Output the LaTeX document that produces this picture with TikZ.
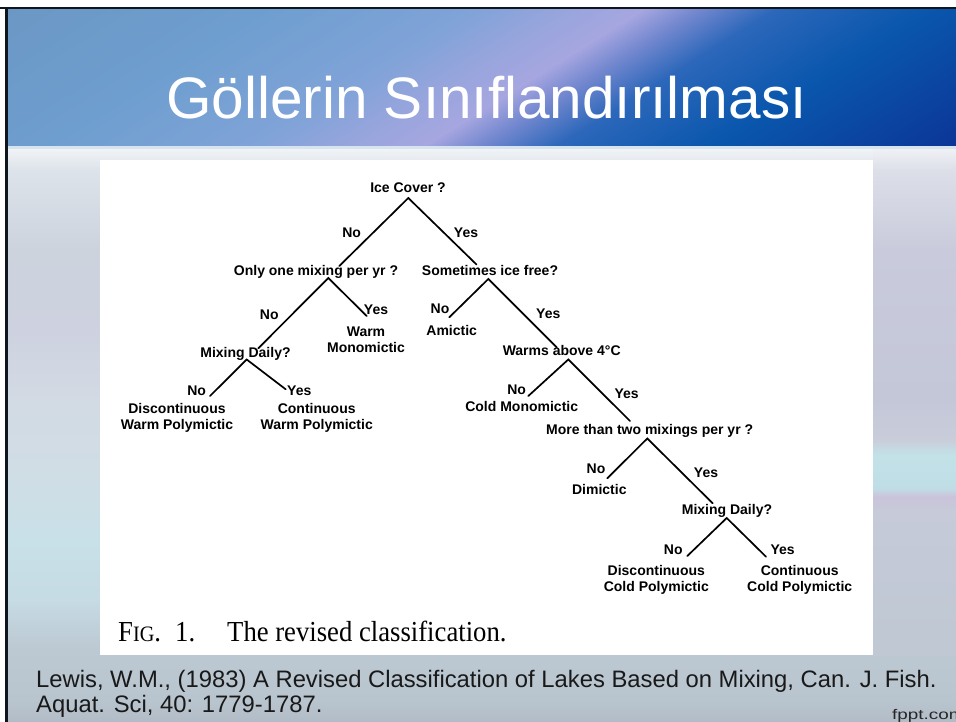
\documentclass[tikz,border=0pt]{standalone}
\usepackage{fontspec}
\setmainfont{Liberation Sans}
\newfontfamily\capfont{Liberation Serif}
% header colours
\definecolor{hA}{HTML}{6B97C4}
\definecolor{hB}{HTML}{6E9ECF}
\definecolor{hC}{HTML}{80A3D8}
\definecolor{hD}{HTML}{98A5DD}
\definecolor{hE}{HTML}{A6A6E0}
\definecolor{hF}{HTML}{7488CF}
\definecolor{hG}{HTML}{2C67BA}
\definecolor{hH}{HTML}{0A57AD}
\definecolor{hI}{HTML}{0B3597}
% body colours
\definecolor{b1}{HTML}{B2BCC6}
\definecolor{b2}{HTML}{B8C4CE}
\definecolor{b3}{HTML}{BCC8D2}
\definecolor{b4}{HTML}{C6DBE4}
\definecolor{b5}{HTML}{C8E0E8}
\definecolor{b6}{HTML}{D0DDE5}
\definecolor{b7}{HTML}{D2DAE4}
\definecolor{b8}{HTML}{CED2E0}
\definecolor{b9}{HTML}{CCD3DD}
\definecolor{b10}{HTML}{DDE3EA}
\definecolor{b11}{HTML}{EEF1F4}
\definecolor{b12}{HTML}{F4F6F8}
% right strip colours
\definecolor{s1}{HTML}{BFC8D3}
\definecolor{s2}{HTML}{C6CAD9}
\definecolor{s3}{HTML}{CBC3DA}
\definecolor{s4}{HTML}{C0DDE5}
\definecolor{s5}{HTML}{C2E2E8}
\definecolor{s6}{HTML}{C9CDDA}
\definecolor{s7}{HTML}{C4C7D8}
\definecolor{s8}{HTML}{C9CBDC}
\definecolor{s9}{HTML}{DCDFE8}
\definecolor{s10}{HTML}{EEF0F4}
\definecolor{hdrline}{HTML}{D6E4F0}
\definecolor{framecol}{HTML}{10161E}
\pgfdeclarehorizontalshading{hdrshade}{100bp}{color(0bp)=(hA); color(33.6bp)=(hA); color(40.4bp)=(hB); color(45.7bp)=(hC); color(48.1bp)=(hD); color(50bp)=(hE); color(51.4bp)=(hF); color(53.4bp)=(hG); color(57.2bp)=(hH); color(63.6bp)=(hI); color(100bp)=(hI)}
\pgfdeclareverticalshading{bodyshade}{100bp}{color(0bp)=(b1); color(25bp)=(b1); color(26.9bp)=(b2); color(31.3bp)=(b3); color(35.6bp)=(b4); color(40.8bp)=(b5); color(46.9bp)=(b6); color(53bp)=(b7); color(59.1bp)=(b8); color(66bp)=(b9); color(73bp)=(b10); color(74.6bp)=(b11); color(75bp)=(b12); color(100bp)=(b12)}
\pgfdeclareverticalshading{stripshade}{100bp}{color(0bp)=(s1); color(25bp)=(s1); color(39.3bp)=(s2); color(40.6bp)=(s3); color(41.4bp)=(s4); color(44.7bp)=(s5); color(46.2bp)=(s6); color(50.1bp)=(s7); color(64.9bp)=(s8); color(72.7bp)=(s9); color(74.7bp)=(s10); color(100bp)=(s10)}
\newcommand\dgf{\fontsize{14}{16}\selectfont\bfseries}
\tikzset{
  qnode/.style={font=\dgf, inner sep=0pt, anchor=base},
  ynnode/.style={font=\dgf, inner sep=0pt, anchor=base},
  leafnode/.style={font=\dgf, inner sep=0pt, anchor=base, align=center},
  branch/.style={line width=1.7pt, black, line cap=round, line join=miter},
}
\begin{document}
\begin{tikzpicture}[x=1pt,y=-1pt]
\useasboundingbox (0,0) rectangle (956,722);
% background
\fill[white] (0,0) rectangle (956,722);
\shade[shading=bodyshade] (7,147) rectangle (956,722);
\shade[shading=stripshade] (873,147) rectangle (956,655);
% header
\begin{scope}
  \clip (7,9) rectangle (956,147);
  \shade[shading=hdrshade, transform canvas={rotate around={-58:(533,78)}}] (13,-442) rectangle (1053,598);
\end{scope}
\fill[hdrline] (7,146) rectangle (956,149);
% frame
\fill[framecol] (0,7) rectangle (956,9.5);
\fill[framecol] (5,7) rectangle (7.5,722);
% white panel
\fill[white] (100,160) rectangle (873,655);
% title
\node[font=\fontsize{58.5}{60}\selectfont, text=white, inner sep=0pt, anchor=base] (title) at (486.5,119) {Göllerin Sınıflandırılması};

% questions
\node[qnode] (q1) at (408,193) {Ice Cover ?};
\node[qnode] (q2) at (316,276) {Only one mixing per yr ?};
\node[qnode] (q3) at (490,276) {Sometimes ice free?};
\node[qnode] (q4) at (245.5,357.7) {Mixing Daily?};
\node[qnode] (q5) at (561.7,355.7) {Warms above 4°C};
\node[qnode] (q6) at (649.7,434.3) {More than two mixings per yr ?};
\node[qnode] (q7) at (727,514.3) {Mixing Daily?};

% leaves (base = baseline of the last line)
\node[leafnode] (l1) at (366,352.5) {Warm\\Monomictic};
\node[leafnode] (l2) at (451.7,335.7) {Amictic};
\node[leafnode] (l3) at (177,429.3) {Discontinuous\\Warm Polymictic};
\node[leafnode] (l4) at (316.7,429.3) {Continuous\\Warm Polymictic};
\node[leafnode] (l5) at (521.7,411) {Cold Monomictic};
\node[leafnode] (l6) at (599.3,494.3) {Dimictic};
\node[leafnode] (l7) at (656.3,591) {Discontinuous\\Cold Polymictic};
\node[leafnode] (l8) at (799.7,591) {Continuous\\Cold Polymictic};

% yes / no labels
\node[ynnode] (n1) at (351.7,237.7) {No};
\node[ynnode] (y1) at (466,237.7) {Yes};
\node[ynnode] (n2) at (269.3,319) {No};
\node[ynnode] (y2) at (376,314) {Yes};
\node[ynnode] (n3) at (440,313.3) {No};
\node[ynnode] (y3) at (548.3,318.3) {Yes};
\node[ynnode] (n4) at (196.7,395) {No};
\node[ynnode] (y4) at (299.3,395) {Yes};
\node[ynnode] (n5) at (516.7,394.3) {No};
\node[ynnode] (y5) at (626.7,398.3) {Yes};
\node[ynnode] (n6) at (596,473.3) {No};
\node[ynnode] (y6) at (706,477.3) {Yes};
\node[ynnode] (n7) at (673.3,554.3) {No};
\node[ynnode] (y7) at (782.7,554.3) {Yes};

% apex points and branch ends
\coordinate (a1) at (408.3,198);
\coordinate (a2) at (328.3,278);
\coordinate (a3) at (488.3,279);
\coordinate (a4) at (246.7,359.5);
\coordinate (a5) at (568.3,359.5);
\coordinate (a6) at (647.3,438.5);
\coordinate (a7) at (726.7,518);
\coordinate (e2) at (339.3,266);
\coordinate (e3) at (476.5,264.5);
\coordinate (e4) at (258.3,348.3);
\coordinate (el1) at (366.7,316);
\coordinate (el2) at (449.3,317.3);
\coordinate (e5) at (556.7,347.3);
\coordinate (el3) at (210,396);
\coordinate (el4) at (285.7,389.3);
\coordinate (el5) at (528.3,396);
\coordinate (e6) at (630,421);
\coordinate (el6) at (607.3,478.3);
\coordinate (e7) at (712.7,503.3);
\coordinate (el7) at (687.3,556);
\coordinate (el8) at (766,556.7);

\draw[branch] (e2) -- (a1) -- (e3);
\draw[branch] (e4) -- (a2) -- (el1);
\draw[branch] (el2) -- (a3) -- (e5);
\draw[branch] (el3) -- (a4) -- (el4);
\draw[branch] (el5) -- (a5) -- (e6);
\draw[branch] (el6) -- (a6) -- (e7);
\draw[branch] (el7) -- (a7) -- (el8);

% caption
\node[font=\capfont\fontsize{29}{30}\selectfont, inner sep=0pt, anchor=base west] (capA) at (118,641) {\scalebox{0.92}[1]{F{\fontsize{22}{22}\selectfont IG}.}};
\node[font=\capfont\fontsize{29}{30}\selectfont, inner sep=0pt, anchor=base west] (capB) at (175,641) {\scalebox{0.92}[1]{1.}};
\node[font=\capfont\fontsize{29}{30}\selectfont, inner sep=0pt, anchor=base west] (capC) at (227,641) {\scalebox{0.92}[1]{The revised classification.}};

% reference
\node[font=\fontsize{23.8}{25}\selectfont, text=black!90, inner sep=0pt, anchor=base west] (ref1) at (36,687) {Lewis, W.M., (1983) A Revised Classification of Lakes Based on Mixing, Can. J. Fish.};
\node[font=\fontsize{23.8}{25}\selectfont, text=black!90, inner sep=0pt, anchor=base west] (ref2) at (36,712) {Aquat. Sci, 40: 1779-1787.};
\node[font=\fontsize{14}{14}\selectfont, text=black!85, inner sep=0pt, anchor=base west] (fppt) at (892,719.7) {\scalebox{1.35}[1]{fppt.com}};
\end{tikzpicture}
\end{document}
